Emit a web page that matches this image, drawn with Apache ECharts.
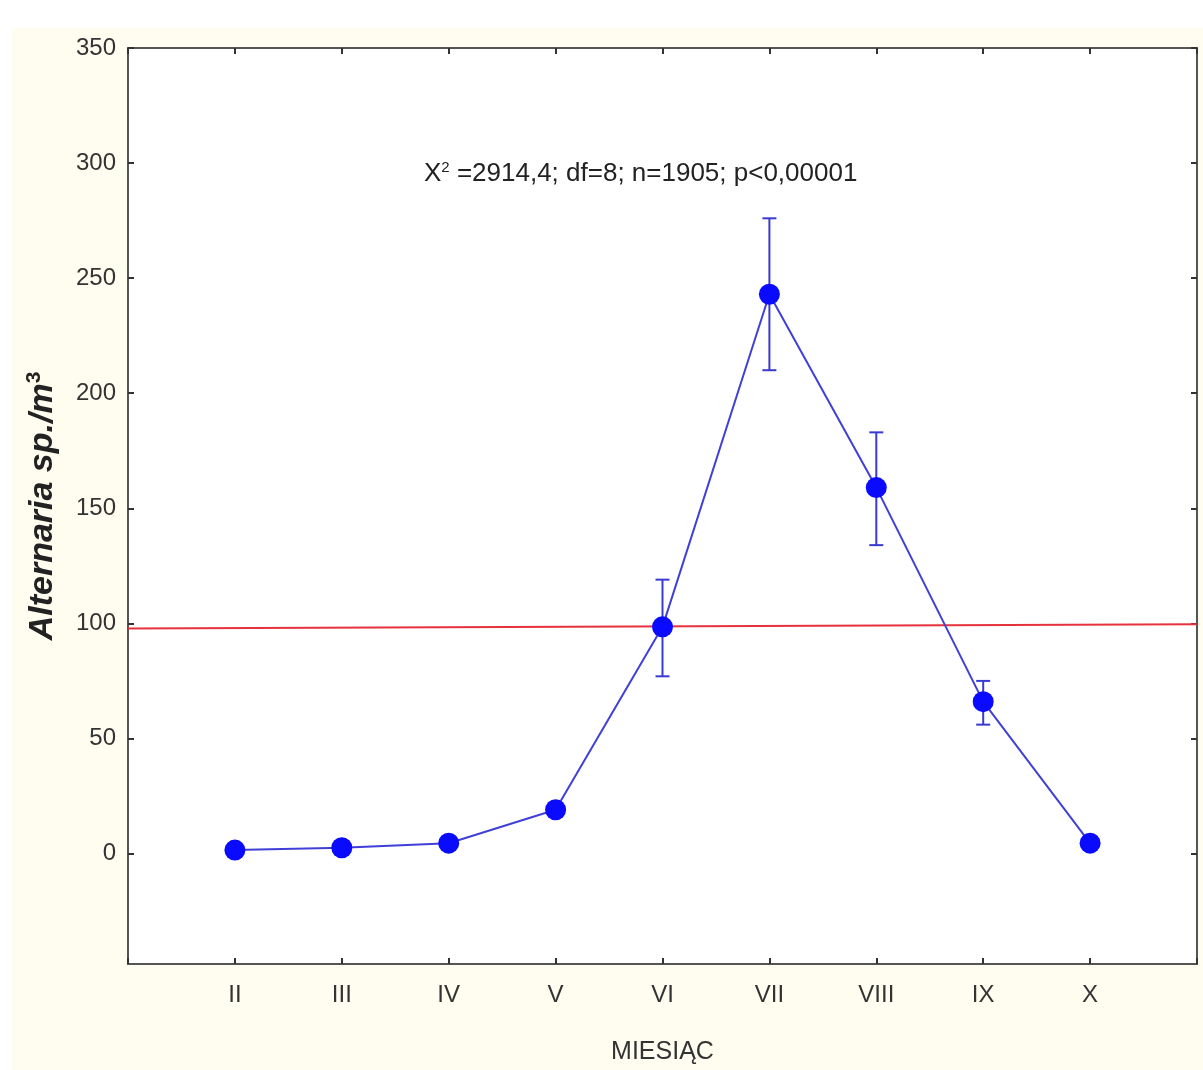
<!DOCTYPE html>
<html lang="pl">
<head>
<meta charset="utf-8" />
<title>Alternaria sp./m3</title>
<script src="https://cdn.jsdelivr.net/npm/echarts@6/dist/echarts.min.js"></script>
<style>
  html, body { margin: 0; padding: 0; background: #fff; }
  #chart { width: 1203px; height: 1070px; }
</style>
</head>
<body>
<div id="chart"></div>
<script>
// miesiace II..X (numer miesiaca na osi X)
var months = [2, 3, 4, 5, 6, 7, 8, 9, 10];
var monthNames = {2: 'II', 3: 'III', 4: 'IV', 5: 'V', 6: 'VI', 7: 'VII', 8: 'VIII', 9: 'IX', 10: 'X'};
var means = [1.5, 2.5, 4.5, 19, 98.5, 243, 159, 66, 4.5];
var lowErr = [1.5, 2.5, 4.5, 17, 77, 210, 134, 56, 4.5];
var highErr = [1.5, 2.5, 4.5, 22, 119, 276, 183, 75, 4.5];
var yTicks = [0, 50, 100, 150, 200, 250, 300, 350];
var refLineX = [1, 11];
var refLineY = [97.8, 99.6];

var chart = echarts.init(document.getElementById('chart'));

var font = '"Liberation Sans", Arial, sans-serif';

var pts = months.map(function (m, i) { return [m, means[i]]; });
var errs = months.map(function (m, i) { return [m, lowErr[i], highErr[i]]; });
var ref = refLineX.map(function (x, i) { return [x, refLineY[i]]; });

function axisX(pos) {
  return {
    type: 'value', position: pos, min: 1, max: 11, interval: 1,
    axisLine: { show: true, onZero: false, lineStyle: { color: '#555', width: 2 } },
    axisTick: { show: true, inside: true, length: 6, lineStyle: { color: '#333', width: 2 } },
    splitLine: { show: false },
    axisLabel: {
      show: pos === 'bottom', margin: 19, color: '#333', fontSize: 24, fontFamily: font,
      formatter: function (v) { return monthNames[v] || ''; }
    }
  };
}
function axisY(pos) {
  return {
    type: 'value', position: pos, min: -48, max: 350,
    axisLine: { show: true, onZero: false, lineStyle: { color: '#555', width: 2 } },
    axisTick: { show: true, inside: true, length: 6, customValues: yTicks, lineStyle: { color: '#333', width: 2 } },
    splitLine: { show: false },
    axisLabel: {
      show: pos === 'left', margin: 12, color: '#333', fontSize: 24, fontFamily: font,
      customValues: yTicks
    }
  };
}

var xBottom = axisX('bottom');
xBottom.name = 'MIESIĄC';
xBottom.nameLocation = 'middle';
xBottom.nameGap = 76;
xBottom.nameTextStyle = { color: '#333', fontSize: 25, fontFamily: font };

var yLeft = axisY('left');
yLeft.name = '{n|Alternaria sp./m}{s|3}';
yLeft.nameLocation = 'middle';
yLeft.nameGap = 66;
yLeft.nameTextStyle = {
  rich: {
    n: { fontSize: 34, fontStyle: 'italic', fontWeight: 'bold', color: '#222', fontFamily: font },
    s: { fontSize: 21, fontWeight: 'bold', color: '#222', fontFamily: font, verticalAlign: 'top', padding: [0, 0, 17, 0] }
  }
};

chart.setOption({
  backgroundColor: '#ffffff',
  animation: false,
  graphic: [
    { type: 'rect', z: -10, silent: true, shape: { x: 12, y: 28, width: 1191, height: 1042 }, style: { fill: '#fffdf0' } },
    {
      type: 'text', left: 424, top: 160, z: 10,
      style: {
        text: '{a|X}{s|2}{a| =2914,4; df=8; n=1905; p<0,00001}',
        rich: {
          a: { fontSize: 26, fill: '#222', fontFamily: font },
          s: { fontSize: 15, fill: '#222', fontFamily: font, verticalAlign: 'top', padding: [0, 0, 13, 0] }
        }
      }
    }
  ],
  grid: {
    left: 128, right: 6, top: 48, bottom: 106,
    outerBoundsMode: 'none', containLabel: false,
    show: true, backgroundColor: '#ffffff', borderWidth: 0
  },
  xAxis: [xBottom, axisX('top')],
  yAxis: [yLeft, axisY('right')],
  series: [
    {
      type: 'line', data: ref, symbol: 'none', z: 2,
      lineStyle: { color: '#e6323c', width: 2 }
    },
    {
      type: 'custom', data: errs, z: 3,
      renderItem: function (params, api) {
        var x = api.value(0);
        var lo = api.coord([x, api.value(1)]);
        var hi = api.coord([x, api.value(2)]);
        var w = 7;
        var st = { stroke: '#3a3ad0', lineWidth: 2 };
        return {
          type: 'group',
          children: [
            { type: 'line', shape: { x1: lo[0], y1: lo[1], x2: hi[0], y2: hi[1] }, style: st },
            { type: 'line', shape: { x1: lo[0] - w, y1: lo[1], x2: lo[0] + w, y2: lo[1] }, style: st },
            { type: 'line', shape: { x1: hi[0] - w, y1: hi[1], x2: hi[0] + w, y2: hi[1] }, style: st }
          ]
        };
      }
    },
    {
      type: 'line', data: pts, z: 4,
      symbol: 'circle', symbolSize: 21,
      itemStyle: { color: '#0a0aff' },
      lineStyle: { color: '#4040d8', width: 2 }
    }
  ]
});
</script>
</body>
</html>
